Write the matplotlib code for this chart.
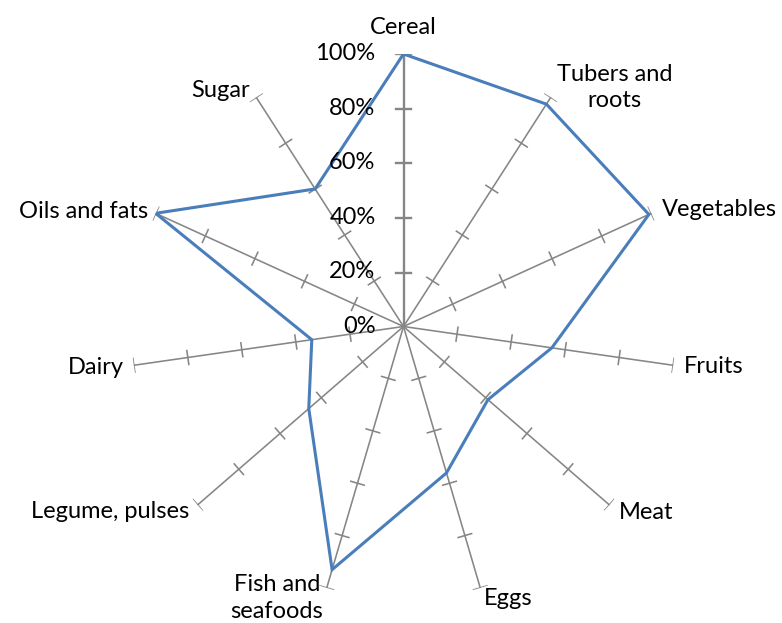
import numpy as np
import matplotlib
matplotlib.use("Agg")
import matplotlib.pyplot as plt

plt.rcParams['font.family'] = ['Lato', 'DejaVu Sans']

categories = ["Cereal", "Tubers and\nroots", "Vegetables", "Fruits", "Meat", "Eggs",
              "Fish and\nseafoods", "Legume, pulses", "Dairy", "Oils and fats", "Sugar"]
values = [100, 97, 99, 55, 41, 56, 93, 46, 34, 100, 60]
r_ticks = [0, 20, 40, 60, 80, 100]
r_tick_labels = ["0%", "20%", "40%", "60%", "80%", "100%"]

# label placement (offset in pixels from the spoke tip, alignment)
label_style = [
    ((0, 27), "center"),
    ((64, 10), "center"),
    ((11, 4), "left"),
    ((11, -1), "left"),
    ((9, -8), "left"),
    ((4, -11), "left"),
    ((-50, -10), "center"),
    ((-8, -7), "right"),
    ((-10, -2), "right"),
    ((-8, 2), "right"),
    ((-6, 7), "right"),
]

W, H = 782, 623
fig = plt.figure(figsize=(W / 100, H / 100), dpi=100)
cx, cy, R = 403.5, 326.5, 272.5
ax = fig.add_axes([(cx - R) / W, (H - cy - R) / H, 2 * R / W, 2 * R / H], projection='polar')
ax.set_theta_zero_location('N')
ax.set_theta_direction(-1)
ax.set_ylim(0, 100)
ax.axis('off')

n = len(categories)
theta = np.arange(n) * 2 * np.pi / n
grey = '#868686'

for k, t in enumerate(theta):
    lw = 1.7 if k == 0 else 1.15
    ax.plot([t, t], [0, 100], color=grey, lw=lw, zorder=1)
    half = 8 if k == 0 else 7
    for r in r_ticks[1:]:
        h = (half / R) / (r / 100)
        ax.plot([t - h, t + h], [r, r], color=grey, lw=lw, zorder=1)

closed_t = np.append(theta, theta[0])
closed_v = np.append(values, values[0])
ax.plot(closed_t, closed_v, color='#4a7ebb', lw=2.2, zorder=3, solid_joinstyle='miter')

for r, lab in zip(r_ticks, r_tick_labels):
    ax.annotate(lab, xy=(0, r), xytext=(-28 * 0.72, 0), textcoords='offset points',
                ha='right', va='center', fontsize=17, color='black')

for t, lab, (off, ha) in zip(theta, categories, label_style):
    ax.annotate(lab, xy=(t, 100), xytext=(off[0] * 0.72, off[1] * 0.72),
                textcoords='offset points', ha=ha, va='center', fontsize=17,
                linespacing=1.3, color='black', annotation_clip=False)

fig.savefig("out.png", dpi=100)
